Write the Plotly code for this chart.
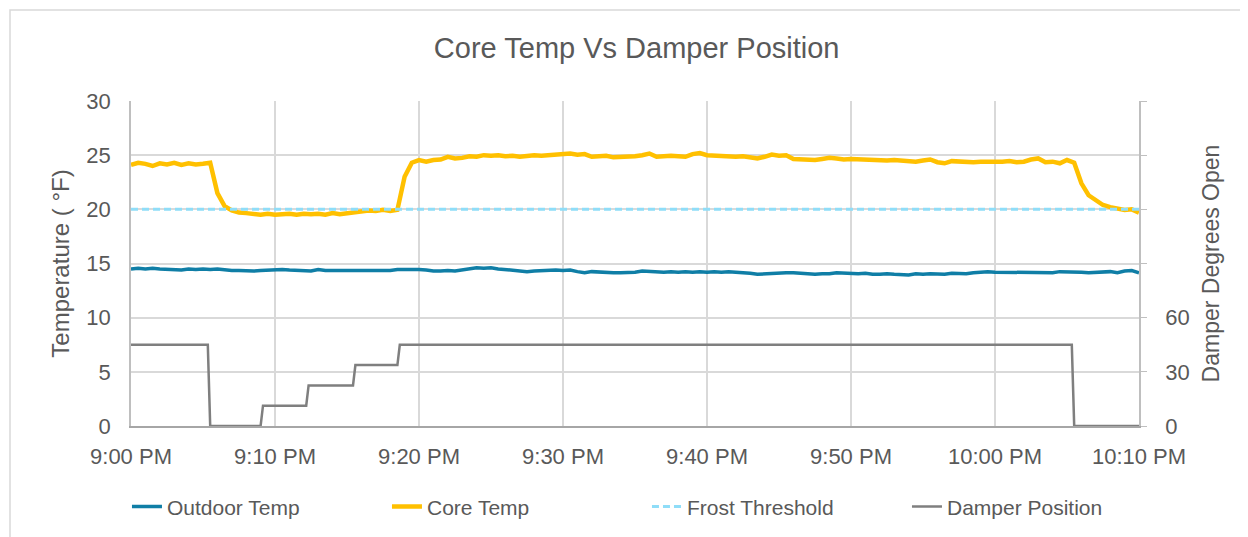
import pandas as pd
import plotly.graph_objects as go

# samples every 30 s from 9:00 PM to 10:10 PM
sample_times = pd.date_range("2024-01-01 21:00:00", "2024-01-01 22:10:00", freq="30s")

core_temp = [
    24.1, 24.3, 24.2, 24.0, 24.25, 24.15, 24.3, 24.1, 24.25, 24.15,
    24.2, 24.3, 21.5, 20.3, 19.9, 19.7, 19.65, 19.55, 19.5, 19.6,
    19.5, 19.55, 19.6, 19.5, 19.6, 19.55, 19.6, 19.5, 19.65, 19.55,
    19.65, 19.7, 19.75, 19.9, 19.85, 19.95, 19.85, 19.95, 23.0, 24.3,
    24.55, 24.4, 24.55, 24.6, 24.85, 24.7, 24.75, 24.9, 24.85, 25.0,
    24.95, 25.0, 24.9, 24.95, 24.85, 24.95, 25.0, 24.95, 25.0, 24.95,
    25.0, 25.15, 25.05, 25.1, 24.85, 24.9, 24.95, 24.8, 24.8, 24.85,
    24.9, 25.0, 25.15, 24.85, 24.95, 24.95, 24.9, 24.85, 25.1, 25.2,
    25.0, 24.95, 24.9, 24.8, 24.85, 24.9, 24.75, 24.7, 24.85, 25.05,
    24.95, 25.0, 24.65, 24.6, 24.65, 24.55, 24.65, 24.75, 24.7, 24.6,
    24.65, 24.6, 24.6, 24.55, 24.5, 24.5, 24.55, 24.5, 24.55, 24.4,
    24.5, 24.6, 24.35, 24.25, 24.45, 24.4, 24.35, 24.35, 24.4, 24.45,
    24.4, 24.4, 24.45, 24.35, 24.4, 24.6, 24.7, 24.35, 24.4, 24.25,
    24.55, 24.3, 22.4, 21.3, 20.8, 20.4, 20.2, 20.05, 19.95, 20.0,
    19.7,
]

outdoor_temp = [
    14.5, 14.55, 14.5, 14.55, 14.5, 14.45, 14.45, 14.4, 14.5, 14.45,
    14.5, 14.45, 14.5, 14.4, 14.35, 14.35, 14.3, 14.3, 14.35, 14.4,
    14.4, 14.45, 14.4, 14.35, 14.3, 14.3, 14.45, 14.35, 14.35, 14.35,
    14.4, 14.4, 14.4, 14.35, 14.4, 14.4, 14.35, 14.45, 14.45, 14.5,
    14.45, 14.4, 14.3, 14.3, 14.35, 14.3, 14.4, 14.45, 14.6, 14.55,
    14.6, 14.5, 14.45, 14.35, 14.3, 14.25, 14.3, 14.35, 14.35, 14.4,
    14.35, 14.4, 14.25, 14.15, 14.25, 14.2, 14.2, 14.15, 14.15, 14.15,
    14.2, 14.3, 14.25, 14.25, 14.2, 14.25, 14.2, 14.25, 14.2, 14.25,
    14.2, 14.25, 14.2, 14.25, 14.2, 14.2, 14.1, 14.0, 14.05, 14.1,
    14.1, 14.15, 14.15, 14.1, 14.05, 14.0, 14.05, 14.05, 14.15, 14.1,
    14.1, 14.05, 14.1, 14.0, 14.0, 14.05, 14.0, 14.0, 13.95, 14.05,
    14.0, 14.05, 14.0, 14.0, 14.1, 14.1, 14.05, 14.15, 14.2, 14.25,
    14.2, 14.2, 14.2, 14.15, 14.2, 14.15, 14.15, 14.2, 14.15, 14.25,
    14.25, 14.2, 14.2, 14.15, 14.2, 14.2, 14.25, 14.15, 14.3, 14.35,
    14.15,
]

frost_times = ["2024-01-01 21:00:00", "2024-01-01 22:10:00"]
frost_threshold = [20, 20]

# damper change points
damper_times = [
    "2024-01-01 21:00:00", "2024-01-01 21:05:20", "2024-01-01 21:05:30",
    "2024-01-01 21:09:00", "2024-01-01 21:09:10", "2024-01-01 21:12:10",
    "2024-01-01 21:12:20", "2024-01-01 21:15:25", "2024-01-01 21:15:35",
    "2024-01-01 21:18:30", "2024-01-01 21:18:40", "2024-01-01 22:05:20",
    "2024-01-01 22:05:30", "2024-01-01 22:10:00",
]
damper_position = [45, 45, 0, 0, 11.25, 11.25, 22.5, 22.5, 33.75, 33.75, 45, 45, 0, 0]

right_ticks = [0, 30, 60, 90, 120, 150, 180]
right_labels = ["0", "30", "60", "", "", "", ""]

font_name = "Liberation Sans"
text_color = "#595959"
grid_color = "#d9d9d9"

fig = go.Figure()
fig.add_trace(go.Scatter(x=sample_times, y=outdoor_temp, mode="lines", name="Outdoor Temp",
                         line=dict(color="#0F7EA6", width=3.5)))
fig.add_trace(go.Scatter(x=sample_times, y=core_temp, mode="lines", name="Core Temp",
                         line=dict(color="#FFC000", width=4.5)))
fig.add_trace(go.Scatter(x=frost_times, y=frost_threshold, mode="lines", name="Frost Threshold",
                         line=dict(color="#8FDDF8", width=3, dash="7px,4px")))
fig.add_trace(go.Scatter(x=damper_times, y=damper_position, mode="lines", name="Damper Position",
                         line=dict(color="#7F7F7F", width=2.5), yaxis="y2"))

# page body adds 8 px, so the figure is 8 px smaller than the window
fig.update_layout(
    width=1240, height=529,
    margin=dict(l=123, r=109, t=93, b=111, autoexpand=False),
    paper_bgcolor="white", plot_bgcolor="white",
    font=dict(family=font_name, color=text_color, size=22),
    title=dict(text="Core Temp Vs Damper Position", x=0.507, xanchor="center",
               y=1 - 40 / 529, yanchor="middle", font=dict(size=29, color=text_color)),
    xaxis=dict(
        range=["2024-01-01 21:00:00", "2024-01-01 22:10:00"],
        dtick=600000, tick0="2024-01-01 21:00:00", tickformat="%-I:%M %p",
        showgrid=True, gridcolor=grid_color, gridwidth=1.5,
        showline=True, linecolor="#a6a6a6", linewidth=2,
        ticks="", ticklabelstandoff=10, tickfont=dict(size=22), zeroline=False,
    ),
    yaxis=dict(
        range=[0, 30], dtick=5, showgrid=True, gridcolor=grid_color, gridwidth=1.5,
        showline=True, linecolor="#bfbfbf", linewidth=1.5, zeroline=False,
        ticks="", ticklabelstandoff=14,
        title=dict(text="Temperature ( °F)", font=dict(size=24), standoff=10),
        tickfont=dict(size=22),
    ),
    yaxis2=dict(
        range=[0, 180], overlaying="y", side="right", tickvals=right_ticks, ticktext=right_labels,
        showgrid=False, showline=True, linecolor="#bfbfbf", linewidth=1.5,
        ticks="outside", ticklen=6, tickcolor="#bfbfbf", ticklabelstandoff=14, zeroline=False,
        title=dict(text="Damper Degrees Open", font=dict(size=23), standoff=14),
        tickfont=dict(size=22),
    ),
    legend=dict(orientation="h", x=-0.004, xanchor="left", y=-0.249, yanchor="middle",
                font=dict(size=21), entrywidth=215, entrywidthmode="pixels",
                itemwidth=30, traceorder="normal"),
    showlegend=True,
)

fig.add_shape(type="rect", xref="paper", yref="paper",
              x0=(2 - 123) / 1008, x1=1.3, y0=-0.6, y1=1 + 91 / 325,
              line=dict(color="#d9d9d9", width=1.5), fillcolor="rgba(0,0,0,0)", layer="below")

fig.write_html("out.html")
